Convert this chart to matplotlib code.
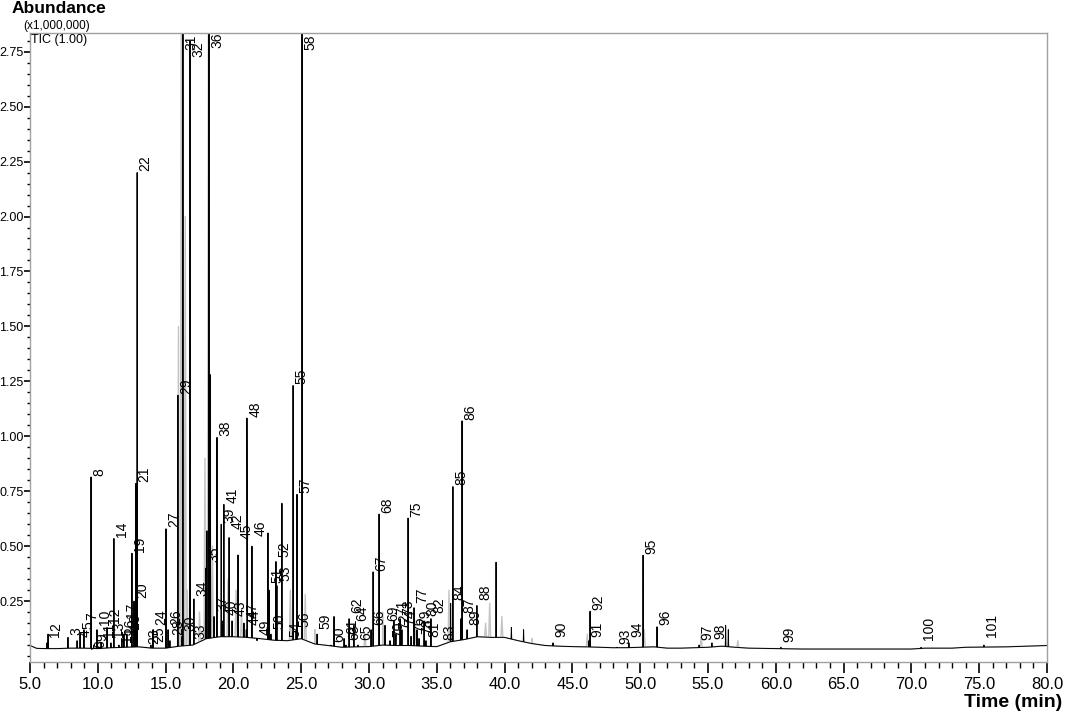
import numpy as np
import matplotlib.pyplot as plt
from matplotlib.ticker import MultipleLocator, FormatStrFormatter, FixedLocator

# labelled peaks: number, retention time (min), apex (x1,000,000), label base
peak_ids = list(range(1, 102))
peak_rt = [6.25, 6.33, 7.80, 8.47, 8.69, 9.56, 8.98, 9.50, 9.70, 9.94,
           10.24, 10.68, 10.97, 11.19, 11.56, 11.78, 11.93, 12.15, 12.52, 12.67,
           12.80, 12.90, 13.55, 14.07, 13.92, 15.18, 15.03, 15.32, 15.91, 16.21,
           16.28, 16.80, 16.95, 17.09, 17.95, 18.20, 18.57, 18.79, 19.10, 19.23,
           19.30, 19.68, 19.90, 20.95, 20.34, 21.37, 20.78, 21.00, 21.74, 22.77,
           22.63, 23.14, 23.21, 23.95, 24.40, 24.62, 24.69, 25.06, 26.17, 27.20,
           28.16, 28.53, 28.30, 28.89, 29.19, 30.15, 30.30, 30.74, 31.18, 31.55,
           31.84, 31.99, 32.29, 32.43, 32.88, 33.10, 33.32, 33.69, 33.54, 34.06,
           34.20, 34.57, 35.31, 36.02, 36.19, 36.86, 36.78, 37.96, 37.23, 43.57,
           46.22, 46.30, 48.29, 49.17, 50.21, 51.24, 54.34, 55.29, 60.38, 70.71,
           75.35]
peak_top = [0.06, 0.10, 0.085, 0.07, 0.10, 0.03, 0.12, 0.815, 0.05, 0.12,
            0.06, 0.13, 0.06, 0.535, 0.05, 0.08, 0.10, 0.10, 0.468, 0.25,
            0.785, 2.20, 0.04, 0.12, 0.05, 0.12, 0.579, 0.07, 1.187, 0.09,
            3.00, 2.80, 0.05, 0.26, 0.40, 3.00, 0.18, 0.995, 0.60, 0.16,
            0.69, 0.539, 0.16, 0.12, 0.46, 0.50, 0.15, 1.083, 0.07, 0.10,
            0.30, 0.43, 0.32, 0.07, 1.231, 0.11, 0.736, 3.00, 0.10, 0.05,
            0.08, 0.17, 0.05, 0.14, 0.05, 0.12, 0.383, 0.646, 0.14, 0.07,
            0.16, 0.10, 0.17, 0.12, 0.628, 0.09, 0.22, 0.08, 0.12, 0.16,
            0.07, 0.17, 0.05, 0.24, 0.771, 1.07, 0.17, 0.23, 0.12, 0.06,
            0.07, 0.204, 0.04, 0.06, 0.459, 0.133, 0.05, 0.06, 0.04, 0.04,
            0.05]
label_y = [0.079, 0.110, 0.088, 0.079, 0.115, 0.030, 0.159, 0.815, 0.061, 0.137,
           0.079, 0.146, 0.079, 0.535, 0.057, 0.092, 0.168, 0.115, 0.468, 0.258,
           0.785, 2.20, 0.048, 0.137, 0.057, 0.137, 0.579, 0.088, 1.187, 0.110,
           2.75, 2.72, 0.070, 0.267, 0.423, 2.76, 0.200, 0.995, 0.600, 0.182,
           0.690, 0.570, 0.178, 0.137, 0.525, 0.539, 0.168, 1.083, 0.088, 0.115,
           0.325, 0.445, 0.333, 0.079, 1.231, 0.124, 0.736, 2.75, 0.115, 0.057,
           0.092, 0.190, 0.066, 0.155, 0.066, 0.133, 0.383, 0.646, 0.155, 0.079,
           0.182, 0.115, 0.182, 0.133, 0.628, 0.101, 0.235, 0.092, 0.137, 0.178,
           0.079, 0.190, 0.066, 0.249, 0.771, 1.07, 0.190, 0.249, 0.137, 0.079,
           0.079, 0.204, 0.048, 0.079, 0.459, 0.133, 0.066, 0.070, 0.057, 0.066,
           0.079]

# unlabelled sharp peaks
extra_rt = [18.05, 18.30, 22.55, 23.58, 27.42, 39.37, 40.50, 41.40, 56.30, 56.50]
extra_top = [0.57, 1.28, 0.56, 0.695, 0.18, 0.427, 0.13, 0.12, 0.14, 0.12]

# broad grey shoulders under the crowded region
shoulder_rt = [15.95, 16.15, 16.45, 16.60, 17.50, 17.90, 18.15, 18.45, 19.60, 20.20,
               20.60, 24.20, 25.30, 26.00, 29.70, 31.00, 33.40, 35.90, 38.60, 38.90,
               39.80, 42.00, 46.10, 50.30, 54.50, 57.20]
shoulder_top = [1.50, 2.83, 2.00, 0.30, 0.20, 0.90, 2.83, 0.50, 0.35, 0.30,
                0.20, 0.30, 0.28, 0.12, 0.10, 0.20, 0.16, 0.30, 0.15, 0.24,
                0.18, 0.08, 0.10, 0.12, 0.10, 0.07]

# baseline of the TIC trace
baseline_rt = [5, 5.5, 6, 7, 8, 9, 10, 11, 12, 13, 14, 15, 16, 17, 18, 19, 20, 21,
               22, 23, 24, 25, 26, 27, 28, 29, 30, 31, 32, 33, 34, 35, 36, 37, 38,
               39, 40, 41, 42, 43, 44, 45, 46, 47, 48, 49, 50, 51, 52, 53, 54, 55,
               56, 57, 58, 60, 62, 65, 68, 70, 71, 73, 74, 77, 80]
baseline_v = [0.048, 0.035, 0.034, 0.034, 0.036, 0.036, 0.034, 0.038, 0.040, 0.042,
              0.036, 0.036, 0.045, 0.050, 0.079, 0.088, 0.088, 0.085, 0.079, 0.072,
              0.070, 0.079, 0.055, 0.048, 0.040, 0.042, 0.043, 0.050, 0.048, 0.048,
              0.045, 0.043, 0.065, 0.075, 0.088, 0.085, 0.085, 0.070, 0.057, 0.048,
              0.045, 0.043, 0.042, 0.040, 0.038, 0.038, 0.040, 0.042, 0.036, 0.036,
              0.038, 0.040, 0.045, 0.040, 0.036, 0.034, 0.032, 0.032, 0.032, 0.032,
              0.036, 0.036, 0.040, 0.042, 0.048]

plt.rcParams["font.family"] = ["Liberation Sans", "DejaVu Sans"]


def spiky_trace(rts, tops, half):
    xs = list(baseline_rt)
    ys = list(baseline_v)
    for rt, top in zip(rts, tops):
        for x in (rt - half, rt + half):
            xs.append(x)
            ys.append(np.interp(x, baseline_rt, baseline_v))
        xs.append(rt)
        ys.append(top)
    xs = np.array(xs)
    ys = np.array(ys)
    order = np.argsort(xs, kind="stable")
    return xs[order], ys[order]


fig = plt.figure(figsize=(10.65, 7.15), dpi=100)
ax = fig.add_axes([30 / 1065, 53 / 715, 1017 / 1065, 629 / 715])

gx, gy = spiky_trace(shoulder_rt, shoulder_top, 0.07)
ax.plot(gx, gy, color="#c4c4c4", linewidth=1.0, zorder=1)

tx, ty = spiky_trace(np.concatenate([peak_rt, extra_rt]),
                     np.concatenate([peak_top, extra_top]), 0.025)
ax.plot(tx, ty, color="black", linewidth=0.7, zorder=2)

ymax = 2.835
for pid, rt, ly in zip(peak_ids, peak_rt, label_y):
    ax.annotate(str(pid), (rt, ly), xytext=(1, 1), textcoords="offset points",
                rotation=90, ha="left", va="bottom", fontsize=10, zorder=3)

ax.set_xlim(5, 80)
ax.set_ylim(-0.027, ymax)

ax.xaxis.set_major_locator(MultipleLocator(5))
ax.xaxis.set_minor_locator(MultipleLocator(1))
ax.xaxis.set_major_formatter(FormatStrFormatter("%.1f"))
ax.yaxis.set_major_locator(FixedLocator(np.arange(0.25, 2.76, 0.25)))
ax.yaxis.set_minor_locator(MultipleLocator(0.05))
ax.yaxis.set_major_formatter(FormatStrFormatter("%.2f"))

ax.tick_params(axis="x", which="major", length=8, width=1.2, labelsize=12, pad=3)
ax.tick_params(axis="x", which="minor", length=4, width=1.0)
ax.tick_params(axis="y", which="major", length=4, width=1.2, labelsize=9, pad=0.5)
ax.tick_params(axis="y", which="minor", length=2.5, width=1.0)

for s in ax.spines.values():
    s.set_color("#a0a0a0")
    s.set_linewidth(1.0)

fig.text(12 / 1065, 1 - 1 / 715, "Abundance", ha="left", va="top",
         fontsize=12.5, fontweight="bold")
fig.text(23 / 1065, 1 - 20 / 715, "(x1,000,000)", ha="left", va="top", fontsize=8.5)
fig.text(31 / 1065, 1 - 34 / 715, "TIC (1.00)", ha="left", va="top", fontsize=9)
fig.text(1062 / 1065, 4 / 715, "Time (min)", ha="right", va="bottom",
         fontsize=14, fontweight="bold")

fig.savefig("out.png", dpi=100)
